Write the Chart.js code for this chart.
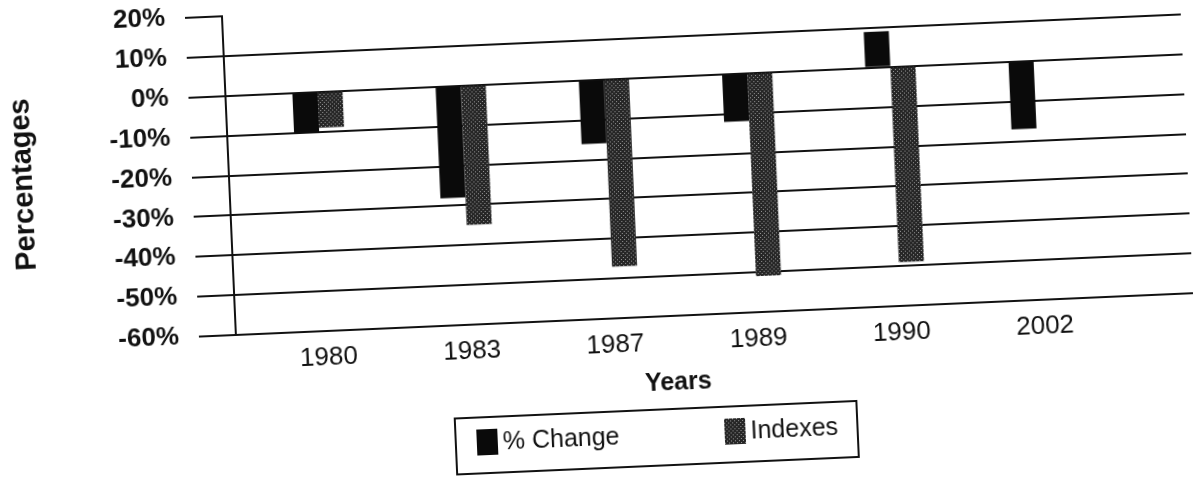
<!DOCTYPE html>
<html>
<head>
<meta charset="utf-8">
<script src="https://cdn.jsdelivr.net/npm/chart.js@4/dist/chart.umd.min.js"></script>
<style>
  html, body { margin: 0; padding: 0; background: #fff; overflow: hidden; }
  body { width: 1200px; height: 477px; position: relative; }
  /* the scanned chart is tilted a bit, so turn the whole canvas the same way */
  #wrap { position: absolute; left: 0; top: -20px; width: 1200px; height: 500px;
          transform-origin: 600px 258px; transform: rotate(-2.5deg); }
</style>
</head>
<body>
<div id="wrap"><canvas id="chart" width="1200" height="500"></canvas></div>
<script>
// Data
var years = ['1980', '1983', '1987', '1989', '1990', '2002'];
var pctChange = [-10, -28, -16, -12, 9, -17];
var indexes = [-9, -35, -47, -51, -49, null];
var seriesNames = ['% Change', 'Indexes'];
var xTitle = 'Years';
var yTitle = 'Percentages';
var yMin = -60, yMax = 20, yStep = 10;

var FONT = '"Liberation Sans", Arial, Helvetica, sans-serif';
Chart.defaults.font.family = FONT;
Chart.defaults.color = '#111';

var canvas = document.getElementById('chart');
var ctx = canvas.getContext('2d');

// dark speckled fill like the scanned "Indexes" bars
function stipple() {
    var c = document.createElement('canvas');
    c.width = 4;
    c.height = 4;
    var g = c.getContext('2d');
    g.fillStyle = '#262626';
    g.fillRect(0, 0, 4, 4);
    g.fillStyle = '#9a9a9a';
    g.fillRect(0, 0, 1, 1);
    g.fillRect(2, 2, 1, 1);
    return ctx.createPattern(c, 'repeat');
}

function points(values) {
    var out = [];
    values.forEach(function (v, i) {
        if (v !== null) out.push({x: i, y: v});
    });
    return out;
}

// "Years" and the boxed legend sit a little left of the plot centre in the scan
var bottomNotes = {
    id: 'bottomNotes',
    afterDraw: function (chart) {
        var c = chart.ctx;
        c.save();
        c.fillStyle = '#111';
        c.textBaseline = 'middle';
        c.textAlign = 'center';
        c.font = 'bold 25px ' + FONT;
        c.fillText(xTitle, 672, 406);

        c.lineWidth = 2;
        c.strokeStyle = '#111';
        c.strokeRect(447, 432, 402, 56);

        c.textAlign = 'left';
        c.font = '25px ' + FONT;
        var starts = [468, 716];
        chart.data.datasets.forEach(function (ds, i) {
            c.fillStyle = ds.backgroundColor;
            c.fillRect(starts[i], 444, 21, 26);
            c.fillStyle = '#111';
            c.fillText(ds.label, starts[i] + 26, 458);
        });
        c.restore();
    }
};

const config = {
    type: 'bar',
    data: {
        datasets: [{
            label: seriesNames[0],
            data: points(pctChange),
            backgroundColor: '#0a0a0a',
            borderWidth: 0,
            barPercentage: 1,
            categoryPercentage: 0.35
        },
        {
            label: seriesNames[1],
            data: points(indexes),
            backgroundColor: stipple(),
            borderWidth: 0,
            barPercentage: 1,
            categoryPercentage: 0.35
        }]
    },
    options: {
        responsive: false,
        animation: false,
        layout: {
            padding: {top: 4, right: 10, bottom: 111, left: 0}
        },
        plugins: {
            legend: {display: false},
            tooltip: {enabled: false}
        },
        scales: {
            x: {
                type: 'linear',
                offset: false,
                min: -0.642,
                max: 6.04,
                grid: {display: false},
                border: {display: false},
                afterBuildTicks: function (scale) {
                    scale.ticks = years.map(function (y, i) { return {value: i}; });
                },
                afterFit: function (scale) {
                    scale.height = 50;
                },
                ticks: {
                    autoSkip: false,
                    maxRotation: 0,
                    padding: 3,
                    font: {size: 26},
                    callback: function (v) { return years[v]; }
                }
            },
            y: {
                min: yMin,
                max: yMax,
                afterFit: function (scale) {
                    scale.width = 232;
                    // tick padding would otherwise push the plot top down
                    scale.paddingTop = 20;
                    scale.paddingBottom = 20;
                },
                ticks: {
                    stepSize: yStep,
                    padding: 20,
                    font: {size: 26, weight: 'bold'},
                    callback: function (v) { return v + '%'; }
                },
                grid: {
                    lineWidth: 2,
                    tickLength: 37,
                    tickWidth: 2,
                    tickColor: '#111',
                    // top value only gets its tick, no line across
                    color: function (c) {
                        return c.tick && c.tick.value === yMax ? 'rgba(0,0,0,0)' : '#111';
                    }
                },
                border: {display: true, color: '#111', width: 2},
                title: {
                    display: true,
                    text: yTitle,
                    font: {size: 29, weight: 'bold'},
                    padding: {top: 10, bottom: 0}
                }
            }
        }
    },
    plugins: [bottomNotes]
};

const chart = new Chart(ctx, config);
</script>
</body>
</html>
